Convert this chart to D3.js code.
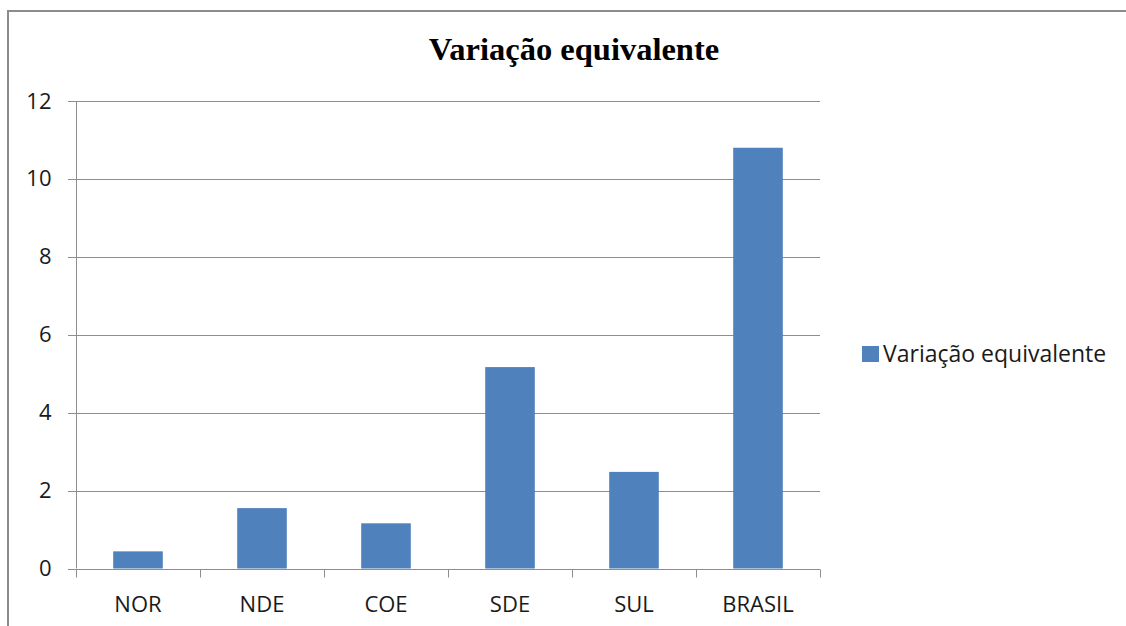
<!DOCTYPE html>
<meta charset="utf-8">
<script src="https://d3js.org/d3.v7.min.js"></script>
<style>
body { margin: 0; background: #fff; }
svg { display: block; }
.tick text { font-family: "Open Sans", "Noto Sans", sans-serif; font-size: 22px; fill: #1a1a1a; }
</style>
<body>
</body>
<script>

// data
var regions = ["NOR", "NDE", "COE", "SDE", "SUL", "BRASIL"];
var values = [0.44, 1.55, 1.16, 5.17, 2.48, 10.8];
var yTicks = [0, 2, 4, 6, 8, 10, 12];
var seriesName = "Variação equivalente";
var title = "Variação equivalente";

var width = 1126;
var height = 626;

var svg = d3.select("body").append("svg")
  .attr("width", width)
  .attr("height", height);

// outer chart frame (only top and left visible)
svg.append("path")
  .attr("d", "M8," + height + "V11H" + width)
  .attr("fill", "none")
  .attr("stroke", "#8c8c8c")
  .attr("stroke-width", 2);

var plotLeft = 76, plotRight = 820, plotTop = 101, plotBottom = 568.5;

var x = d3.scaleBand()
  .domain(regions)
  .range([plotLeft, plotRight])
  .paddingInner(0.6)
  .paddingOuter(0.3);

var xOuter = d3.scaleBand()
  .domain(regions)
  .range([plotLeft, plotRight]);

var y = d3.scaleLinear()
  .domain([0, 12])
  .range([plotBottom, plotTop]);

// gridlines (extend left as tick marks)
svg.append("g")
  .selectAll("line")
  .data(yTicks)
  .enter().append("line")
  .attr("x1", plotLeft - 8)
  .attr("x2", plotRight)
  .attr("y1", function(d) { return Math.round(y(d)) + 0.5; })
  .attr("y2", function(d) { return Math.round(y(d)) + 0.5; })
  .attr("stroke", "#8e8e8e")
  .attr("stroke-width", 1);

// y axis
var yAxis = svg.append("g")
  .attr("transform", "translate(" + (plotLeft + 0.5) + ",0)")
  .call(d3.axisLeft(y).tickValues(yTicks).tickSize(8).tickPadding(17).tickFormat(d3.format("d")));
yAxis.select(".domain").attr("stroke", "#8e8e8e").attr("d", "M0," + plotTop + "V" + plotBottom);
yAxis.selectAll(".tick line").remove();

// bars
svg.append("g")
  .selectAll("rect")
  .data(values)
  .enter().append("rect")
  .attr("x", function(d, i) { return x(regions[i]); })
  .attr("width", x.bandwidth())
  .attr("y", function(d) { return y(d); })
  .attr("height", function(d) { return y(0) - y(d); })
  .attr("fill", "#4f81bd");

// x axis with ticks on category boundaries
var xAxis = svg.append("g")
  .attr("transform", "translate(0," + (Math.round(plotBottom) + 0.5) + ")");
xAxis.append("line")
  .attr("x1", plotLeft).attr("x2", plotRight)
  .attr("stroke", "#8e8e8e");
xAxis.selectAll(".bound")
  .data(regions.concat(["end"]))
  .enter().append("line")
  .attr("class", "bound")
  .attr("x1", function(d, i) { return Math.round(i < regions.length ? xOuter(d) : plotRight) + 0.5; })
  .attr("x2", function(d, i) { return Math.round(i < regions.length ? xOuter(d) : plotRight) + 0.5; })
  .attr("y1", 0).attr("y2", 8)
  .attr("stroke", "#8e8e8e");
xAxis.selectAll(".lab")
  .data(regions)
  .enter().append("text")
  .attr("class", "lab")
  .attr("x", function(d) { return xOuter(d) + xOuter.bandwidth() / 2; })
  .attr("y", 42)
  .attr("text-anchor", "middle")
  .style("font-family", "'Open Sans', 'Noto Sans', sans-serif")
  .style("font-size", "22px")
  .attr("fill", "#1a1a1a")
  .text(function(d) { return d; });

// title
svg.append("text")
  .attr("x", 574)
  .attr("y", 60)
  .attr("text-anchor", "middle")
  .style("font-family", "'Liberation Serif', serif")
  .style("font-weight", "bold")
  .style("font-size", "32.5px")
  .text(title);

// legend
var legend = svg.append("g").attr("transform", "translate(862,346)");
legend.append("rect")
  .attr("width", 17).attr("height", 16)
  .attr("fill", "#4f81bd");
legend.append("text")
  .attr("x", 21)
  .attr("y", 16)
  .style("font-family", "'Open Sans', 'Noto Sans', sans-serif")
  .style("font-size", "23px")
  .attr("fill", "#1a1a1a")
  .text(seriesName);

</script>
